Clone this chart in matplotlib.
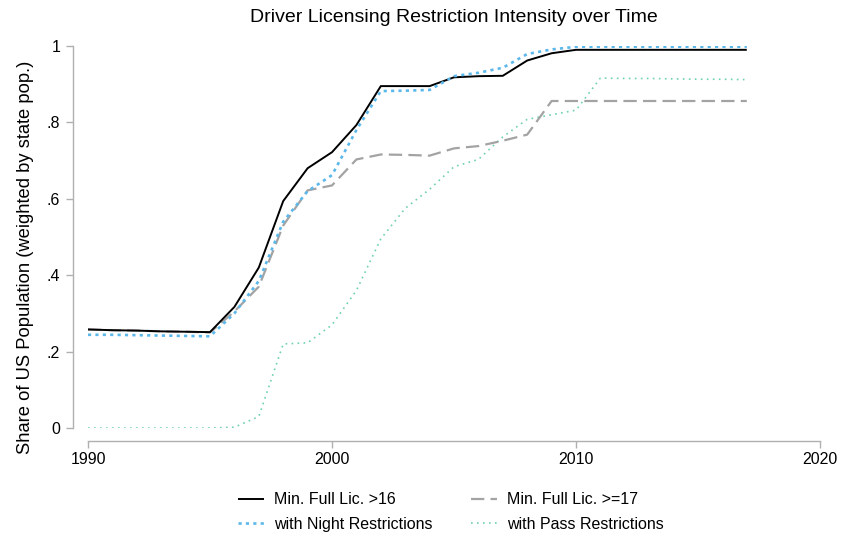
import matplotlib
matplotlib.use("Agg")
import matplotlib.pyplot as plt

plt.rcParams['font.family'] = ['Liberation Sans', 'DejaVu Sans']

years = list(range(1990, 2018))
full16 = [0.258, 0.256, 0.255, 0.253, 0.252, 0.251, 0.317, 0.420, 0.594, 0.680,
          0.722, 0.793, 0.895, 0.895, 0.895, 0.918, 0.921, 0.922, 0.962, 0.981,
          0.990, 0.990, 0.990, 0.990, 0.990, 0.990, 0.990, 0.990]
night = [0.244, 0.244, 0.243, 0.242, 0.241, 0.240, 0.300, 0.385, 0.540, 0.620,
         0.662, 0.780, 0.882, 0.883, 0.885, 0.921, 0.930, 0.943, 0.979, 0.991,
         0.998, 0.998, 0.998, 0.998, 0.998, 0.998, 0.998, 0.998]
full17 = [0.258, 0.256, 0.255, 0.253, 0.252, 0.250, 0.305, 0.370, 0.530, 0.622,
          0.635, 0.703, 0.716, 0.715, 0.713, 0.732, 0.738, 0.752, 0.768, 0.856,
          0.856, 0.856, 0.856, 0.856, 0.856, 0.856, 0.856, 0.856]
pas = [0.0, 0.0, 0.0, 0.0, 0.0, 0.0, 0.002, 0.030, 0.220, 0.223,
       0.270, 0.360, 0.495, 0.575, 0.625, 0.684, 0.703, 0.762, 0.808, 0.820,
       0.832, 0.916, 0.915, 0.915, 0.914, 0.913, 0.913, 0.912]

labels = ["Min. Full Lic. >16", "with Night Restrictions",
          "Min. Full Lic. >=17", "with Pass Restrictions"]
xticks = [1990, 2000, 2010, 2020]
yticks = [0, 0.2, 0.4, 0.6, 0.8, 1.0]
yticklabels = ["0", ".2", ".4", ".6", ".8", "1"]

W, H = 844, 537
fig = plt.figure(figsize=(W / 100, H / 100), dpi=100)
left, right, top, bottom = 88, 820, 46, 428
ax = fig.add_axes([left / W, 1 - bottom / H, (right - left) / W, (bottom - top) / H])

c_black = "#000000"
c_blue = "#5cb8ea"
c_gray = "#a3a3a3"
c_green = "#6fd0b4"

l1, = ax.plot(years, full16, color=c_black, lw=1.4, solid_capstyle='butt', zorder=4)
l3, = ax.plot(years, full17, color=c_gray, lw=1.6, linestyle=(0, (6, 2.8)), zorder=3)
l2, = ax.plot(years, night, color=c_blue, lw=1.9, linestyle=(0, (1.2, 1.6)), zorder=5)
l4, = ax.plot(years, pas, color=c_green, lw=1.2, linestyle=(0, (1, 2.6)), zorder=2)

ax.set_xlim(1990, 2020)
ax.set_ylim(0, 1)
ax.spines['top'].set_visible(False)
ax.spines['right'].set_visible(False)
for s in ['left', 'bottom']:
    ax.spines[s].set_color('#b0b0b0')
    ax.spines[s].set_linewidth(1.0)
ax.spines['left'].set_position(('outward', 11))
ax.spines['bottom'].set_position(('outward', 9))
ax.set_xticks(xticks)
ax.set_yticks(yticks)
ax.set_yticklabels(yticklabels)
ax.tick_params(axis='both', colors='#b0b0b0', labelcolor='black', labelsize=11.5,
               length=5, width=1.0)
ax.tick_params(axis='y', pad=4)
ax.tick_params(axis='x', pad=3)

ax.set_ylabel("Share of US Population (weighted by state pop.)", fontsize=13.2)
ax.yaxis.set_label_coords(-(left - 25) / (right - left), (bottom - 257) / (bottom - top))
ax.yaxis.label.set_va('center')
fig.text(454 / W, 1 - 17 / H, "Driver Licensing Restriction Intensity over Time",
         ha='center', va='center', fontsize=14)

handles = [l1, l2, l3, l4]
leg = fig.legend(handles, labels, ncol=2, loc='center', bbox_to_anchor=(451 / W, 1 - 512 / H),
                 frameon=False, fontsize=11.5, handlelength=1.6, columnspacing=2.4,
                 labelspacing=0.6, handletextpad=0.65)

fig.savefig("out.png", dpi=100)
